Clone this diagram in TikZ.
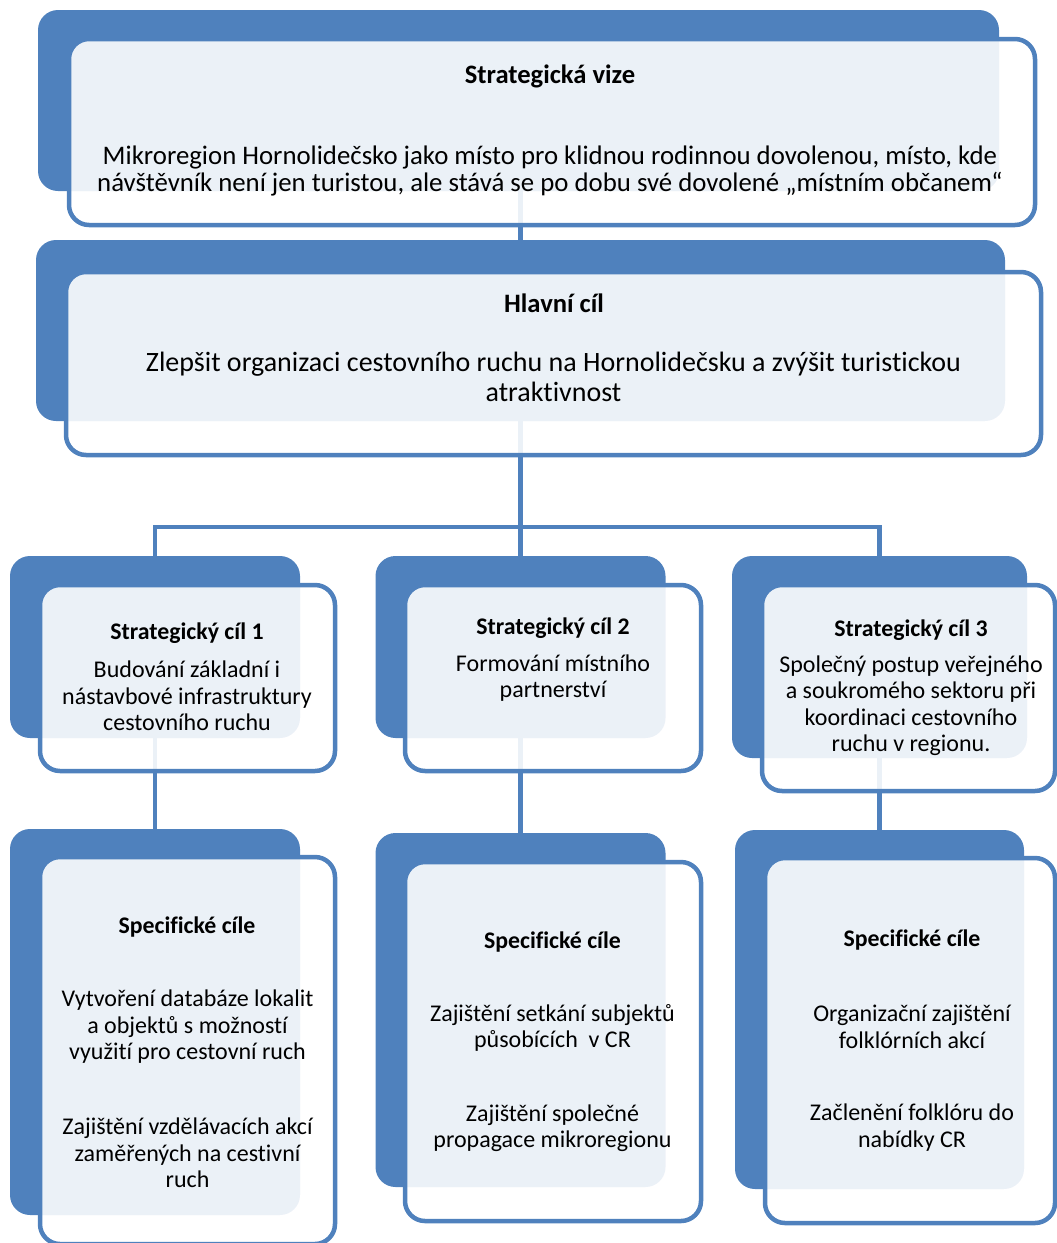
\documentclass[tikz,border=0pt]{standalone}
\usepackage{fontspec}
\setmainfont{Carlito}[Ligatures={NoCommon}]
\definecolor{accent}{HTML}{4F81BD}
\tikzset{
  backbox/.style={rectangle, rounded corners=20pt, fill=accent, draw=none, inner sep=0pt},
  frontbox/.style={rectangle, rounded corners=20pt, draw=accent, line width=4.5pt,
    fill=white, fill opacity=0.89, inner sep=0pt},
  link/.style={draw=accent, line width=4.5pt},
  bigtitle/.style={font=\fontsize{26.6}{30}\selectfont\bfseries, inner sep=0pt},
  bigtext/.style 2 args={font=\fontsize{#1}{#2}\selectfont, align=center, inner sep=0pt},
  smalltitle/.style={font=\fontsize{23.8}{28}\selectfont\bfseries, inner sep=0pt},
  smalltext/.style={font=\fontsize{24}{26.5}\selectfont, align=center, inner sep=0pt},
}
% back panel: name, centre x, centre y, width, height
\newcommand\backpanel[5]{\node[backbox, minimum width=#4pt, minimum height=#5pt] (#1) at (#2,#3) {};}
% front panel: name, centre x, centre y, width, height
\newcommand\frontpanel[5]{\node[frontbox, minimum width=#4pt, minimum height=#5pt] (#1) at (#2,#3) {};}
\begin{document}
\begin{tikzpicture}[x=1pt,y=-1pt]
\useasboundingbox (0,0) rectangle (1057,1243);

% back panels
\backpanel{visionb}{518.5}{100.5}{961}{181}
\backpanel{goalb}{520.5}{330.5}{969}{181}
\backpanel{aimAb}{155}{647}{290}{182}
\backpanel{aimBb}{520.5}{647}{290}{182}
\backpanel{aimCb}{879.5}{657}{295}{202}
\backpanel{specAb}{155}{1022}{290}{386}
\backpanel{specBb}{520.5}{1010}{290}{354}
\backpanel{specCb}{879.5}{1009.5}{289}{359}

% connectors
\coordinate (bus) at (520.5,527);
\draw[link] (goalb.center) -- (goalb.center |- visionb.center);
\draw[link] (goalb.center) -- (bus);
\draw[link] (aimAb.center) |- (bus) -| (aimCb.center);
\draw[link] (bus) -- (aimBb.center);
\draw[link] (aimAb.center) -- (specAb.center);
\draw[link] (aimBb.center) -- (specBb.center);
\draw[link] (aimCb.center) -- (specCb.center);

% front panels
\frontpanel{vision}{552}{132}{966}{186}
\frontpanel{goal}{553.5}{363.5}{975}{183}
\frontpanel{aimA}{187.5}{678}{295}{186}
\frontpanel{aimB}{553}{678}{296}{186}
\frontpanel{aimC}{908.5}{688}{293}{206}
\frontpanel{specA}{187.5}{1050.5}{295}{387}
\frontpanel{specB}{553}{1041.5}{296}{359}
\frontpanel{specC}{910}{1040.5}{290}{365}

% texts
\node[bigtitle] (visiont) at (550,76) {Strategická vize};
\node[bigtext={26.8}{27.5}] (visiontx) at (550,171) {Mikroregion Hornolidečsko jako místo pro klidnou rodinnou dovolenou, místo, kde\\
  návštěvník není jen turistou, ale stává se po dobu své dovolené „místním občanem“};
\node[bigtitle] (goalt) at (554,303) {Hlavní cíl};
\node[bigtext={28}{30}] (goaltx) at (553.5,377) {Zlepšit organizaci cestovního ruchu na Hornolidečsku a zvýšit turistickou\\ atraktivnost};

\node[smalltitle] (aimAt) at (187,633) {Strategický cíl 1};
\node[smalltext] (aimAtx) at (187,696) {Budování základní i\\ nástavbové infrastruktury\\ cestovního ruchu};
\node[smalltitle] (aimBt) at (553,628) {Strategický cíl 2};
\node[smalltext] (aimBtx) at (553,678) {Formování místního\\ partnerství};
\node[smalltitle] (aimCt) at (911,630) {Strategický cíl 3};
\node[smalltext] (aimCtx) at (911,705.5) {Společný postup veřejného\\ a soukromého sektoru při\\ koordinaci cestovního\\ ruchu v regionu.};

\node[smalltitle] (specAt) at (187,927) {Specifické cíle};
\node[smalltext] (specAa) at (187.5,1027) {Vytvoření databáze lokalit\\ a objektů s možností\\ využití pro cestovní ruch};
\node[smalltext] (specAc) at (187.5,1153) {Zajištění vzdělávacích akcí\\ zaměřených na cestivní\\ ruch};
\node[smalltitle] (specBt) at (552.5,942) {Specifické cíle};
\node[smalltext] (specBa) at (552.5,1028) {Zajištění setkání subjektů\\ působících\ \ v CR};
\node[smalltext] (specBc) at (552.5,1128) {Zajištění společné\\ propagace mikroregionu};
\node[smalltitle] (specCt) at (912,940) {Specifické cíle};
\node[smalltext] (specCa) at (912,1027) {Organizační zajištění\\ folklórních akcí};
\node[smalltext] (specCc) at (912,1127.5) {Začlenění folklóru do\\ nabídky CR};
\end{tikzpicture}
\end{document}
